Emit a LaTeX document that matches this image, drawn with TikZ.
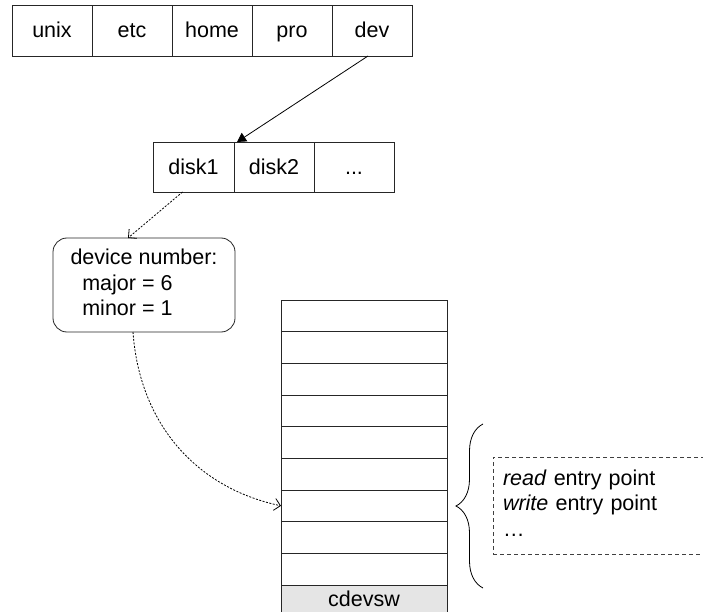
\documentclass[tikz,border=0pt]{standalone}
\usepackage{fontspec}
\setmainfont{Liberation Sans}
\usetikzlibrary{arrows.meta,positioning,decorations.pathreplacing}

\begin{document}
\begin{tikzpicture}[
  x=1pt, y=-1pt,
  font=\fontsize{21.5}{25.5}\selectfont,
  every node/.style={outer sep=0pt},
  cell/.style={rectangle, draw=black!85, line width=0.8pt, minimum width=80pt, minimum height=51pt, inner sep=0pt, text height=15pt, text depth=0pt},
  slot/.style={rectangle, draw=black!85, line width=0.8pt, minimum width=166pt, minimum height=31.67pt, inner sep=0pt},
  devbox/.style={rectangle, draw=black!85, line width=0.8pt, rounded corners=14pt, minimum width=182pt, minimum height=94pt, align=left},
  entrybox/.style={rectangle, draw=black!75, line width=0.7pt, dash pattern=on 4pt off 3pt, minimum width=215pt, minimum height=97pt, inner xsep=10pt, text width=195pt, align=left},
  link/.style={-{Triangle[length=9pt,width=10pt]}, line width=0.8pt},
  dotlink/.style={-{Straight Barb[length=6pt,width=12pt]}, line width=0.8pt, dash pattern=on 2pt off 1.5pt}
]
\useasboundingbox (0,0) rectangle (703,612);

% Root directory
\node[cell] (unix) at (52,30.5) {unix};
\node[cell, right=0pt of unix] (etc) {etc};
\node[cell, right=0pt of etc] (home) {home};
\node[cell, right=0pt of home] (pro) {pro};
\node[cell, right=0pt of pro] (dev) {dev};

% /dev directory
\node[cell, minimum width=81pt, minimum height=50pt] (disk1) at (193.5,167) {disk1};
\node[cell, minimum height=50pt, right=0pt of disk1] (disk2) {disk2};
\node[cell, minimum height=50pt, right=0pt of disk2] (more) {...};

% Device number
\node[devbox] (devnum) at (144,285) {\strut device number:\\
  \hspace{0.55em}major = 6\\\hspace{0.55em}minor = 1\strut};

% Switch table
\node[slot] (s1) at (364,315.8) {};
\foreach \i [count=\j from 1] in {2,...,9}
  \node[slot, below=0pt of s\j] (s\i) {};
\node[slot, fill=black!10, minimum height=28pt, below=0pt of s9] (cdevsw) {cdevsw};

% Entry points
\node[entrybox, anchor=north west] (entries) at (493,457) {\strut\textit{read} entry point\\
  \textit{write} entry point\\\dots\strut};
\coordinate (brtop) at (483,424);
\coordinate (brbot) at (483,588);
\draw[line width=0.8pt, decorate, decoration={brace, amplitude=27pt, aspect=0.5}] (brbot) -- (brtop);

% Arrows
\draw[link] ([xshift=-4pt]dev.south) -- ([xshift=3pt]disk2.north west);
\draw[dotlink] ([xshift=-11pt]disk1.south) -- ([xshift=-16pt]devnum.north);
\draw[dotlink] ([xshift=-11pt]devnum.south) to[out=-86, in=168] (s7.west);

\end{tikzpicture}
\end{document}
